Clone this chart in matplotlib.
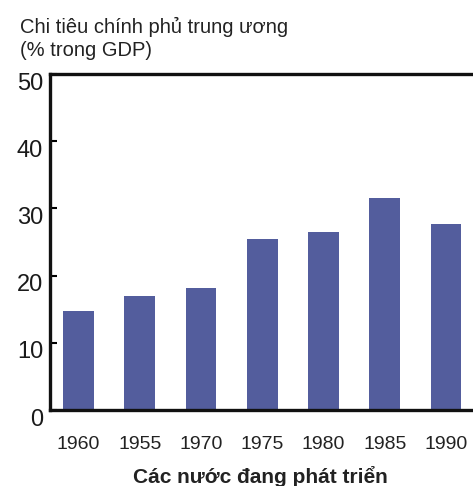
import numpy as np
import matplotlib
matplotlib.use('Agg')
from matplotlib import pyplot as plt
from matplotlib.transforms import ScaledTranslation

years = ['1960', '1955', '1970', '1975', '1980', '1985', '1990']
spending = [14.8, 17.0, 18.2, 25.5, 26.5, 31.5, 27.7]  # % of GDP
yticks = [0, 10, 20, 30, 40, 50]

plt.rcParams['font.family'] = ['Liberation Sans', 'DejaVu Sans']

fig = plt.figure(figsize=(4.73, 4.86), dpi=100)
ax = fig.add_axes([50 / 473, 1 - 410 / 486, 423 / 473, (410 - 74) / 486])

x = np.arange(len(years))
ax.bar(x, spending, width=0.5, color='#535d9d')

ax.set_xlim(-0.465, 6.44)
ax.set_ylim(0, 50)
ax.set_xticks(x)
ax.set_xticklabels(years, fontsize=14, color='#222222')
ax.set_yticks(yticks)
ax.set_yticklabels([str(v) for v in yticks], fontsize=17, color='#1a1a1a')
ax.tick_params(axis='x', length=0, pad=19)
ax.tick_params(axis='y', direction='in', length=5, width=1.5, pad=5)

# labels sit a bit low in the original
for lab in ax.get_yticklabels():
    lab.set_transform(lab.get_transform() + ScaledTranslation(0, -7 / 100, fig.dpi_scale_trans))

for side in ['left', 'bottom', 'top']:
    ax.spines[side].set_linewidth(2.4)
    ax.spines[side].set_color('#111111')
ax.spines['right'].set_visible(False)

fig.text(20 / 473, 1 - 27 / 486, 'Chi tiêu chính phủ trung ương', fontsize=14.5,
         va='center', ha='left', color='#222222')
fig.text(20 / 473, 1 - 50 / 486, '(% trong GDP)', fontsize=14.5,
         va='center', ha='left', color='#222222')
fig.text(260 / 473, 1 - 476 / 486, 'Các nước đang phát triển', fontsize=15,
         fontweight='bold', va='center', ha='center', color='#222222')

fig.savefig('out.png', dpi=100)
